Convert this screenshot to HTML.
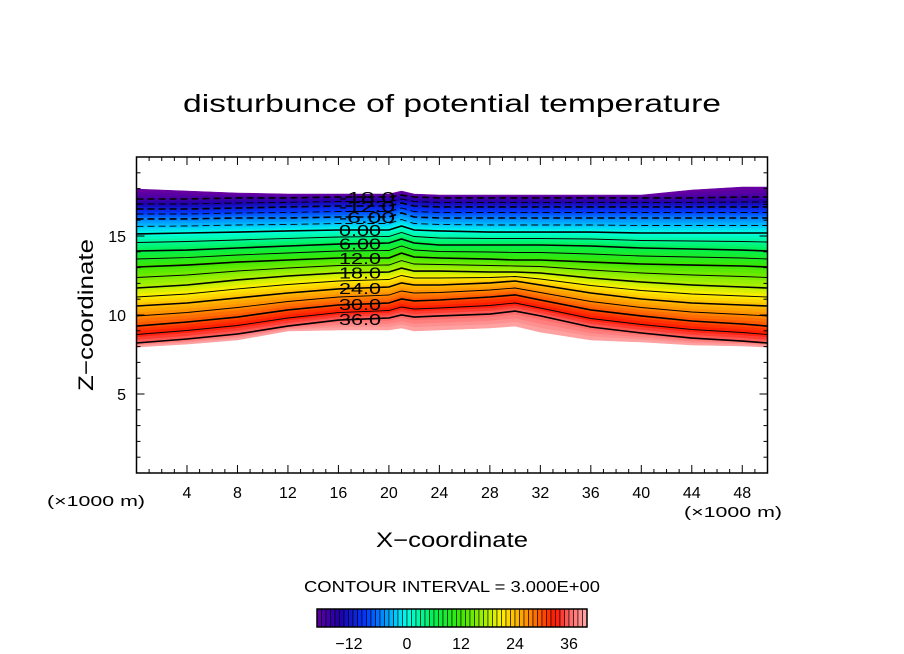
<!DOCTYPE html>
<html><head><meta charset="utf-8"><style>
body{margin:0;background:#fff;}
svg{display:block;font-family:"Liberation Sans",sans-serif;}
</style></head><body>
<svg id="chart" width="904" height="654" viewBox="0 0 904 654">
<text x="183" y="112" font-size="25" textLength="538" lengthAdjust="spacingAndGlyphs">disturbunce of potential temperature</text>
<g id="plot"></g>
<g id="axes"></g>
<text x="376" y="547" font-size="21" textLength="152" lengthAdjust="spacingAndGlyphs">X−coordinate</text>
<text transform="translate(93,391) rotate(-90)" font-size="21" textLength="152" lengthAdjust="spacingAndGlyphs">Z−coordinate</text>
<text x="47" y="506" font-size="15" textLength="98" lengthAdjust="spacingAndGlyphs">(×1000 m)</text>
<text x="684" y="517" font-size="15" textLength="98" lengthAdjust="spacingAndGlyphs">(×1000 m)</text>
<text x="304" y="592" font-size="16" textLength="296" lengthAdjust="spacingAndGlyphs">CONTOUR INTERVAL = 3.000E+00</text>
<g id="cbar"></g>
</svg>
<script>
// data
const xCols = [0,4,8,12,16,20,21,22,24,28,30,32,36,40,44,48,50];
const mainLevels = [-21,-18,-12,-6,0,6,12,18,24,30,36,40];
const levelHeights = [
 [17.97,17.85,17.72,17.66,17.66,17.66,17.85,17.66,17.59,17.59,17.59,17.59,17.59,17.59,17.91,18.10,18.10],
 [17.34,17.34,17.41,17.41,17.47,17.47,17.59,17.47,17.41,17.41,17.41,17.41,17.41,17.41,17.41,17.47,17.47],
 [16.71,16.71,16.77,16.84,16.90,16.90,17.09,16.90,16.84,16.84,16.84,16.84,16.84,16.84,16.84,16.84,16.84],
 [16.08,16.08,16.14,16.14,16.20,16.20,16.46,16.20,16.14,16.14,16.14,16.14,16.14,16.14,16.14,16.14,16.14],
 [15.13,15.19,15.25,15.32,15.38,15.38,15.63,15.38,15.32,15.25,15.25,15.25,15.25,15.19,15.19,15.19,15.19],
 [14.05,14.11,14.24,14.37,14.49,14.56,14.81,14.56,14.43,14.43,14.43,14.43,14.37,14.24,14.18,14.11,14.05],
 [13.04,13.16,13.35,13.48,13.61,13.61,13.92,13.67,13.61,13.54,13.48,13.48,13.35,13.23,13.16,13.10,13.04],
 [11.71,11.90,12.22,12.47,12.66,12.72,12.97,12.78,12.78,12.72,12.72,12.66,12.34,12.09,11.90,11.77,11.71],
 [10.57,10.76,11.08,11.39,11.65,11.77,12.03,11.90,11.90,12.03,12.15,11.90,11.39,11.01,10.76,10.63,10.57],
 [9.30,9.56,9.87,10.32,10.63,10.76,11.01,10.89,10.95,11.14,11.27,10.95,10.32,9.94,9.62,9.43,9.30],
 [8.23,8.48,8.80,9.30,9.68,9.81,10.00,9.87,9.94,10.06,10.25,9.94,9.24,8.86,8.54,8.35,8.23],
 [7.97,8.16,8.42,8.99,9.05,9.05,9.18,8.99,9.05,9.18,9.30,8.92,8.42,8.29,8.10,8.04,7.97]
];
const contourLabels = [-18,-12,-6,0,6,12,18,24,30,36];
const xTicks = [4,8,12,16,20,24,28,32,36,40,44,48];
const yTicks = [5,10,15];
const cbarTicks = [-12,0,12,24,36];

const NS='http://www.w3.org/2000/svg';
const X0=136.5,X1=767.5,Y0=473,Y1=157;
const sx=x=>X0+(x/50)*(X1-X0);
const sy=z=>Y0-(z/20)*(Y0-Y1);
function mk(tag,attrs,parent){const e=document.createElementNS(NS,tag);for(const k in attrs)e.setAttribute(k,attrs[k]);parent.appendChild(e);return e;}
const stops=[[-21,[110,0,160]],[-15,[30,0,170]],[-9,[0,60,255]],[-3,[0,190,255]],[0,[0,255,230]],[6,[0,240,80]],[12,[60,230,0]],[18,[180,240,0]],[21,[255,240,0]],[27,[255,140,0]],[33,[255,20,0]],[36,[255,100,100]],[40,[255,170,170]]];
function color(v){for(let i=0;i<stops.length-1;i++){const a=stops[i],b=stops[i+1];if(v<=b[0]){const t=Math.max(0,(v-a[0])/(b[0]-a[0]));const c=a[1].map((q,j)=>Math.round(q+(b[1][j]-q)*t));return`rgb(${c})`;}}return'rgb(255,170,170)';}
function zAt(v,ci){for(let i=0;i<mainLevels.length-1;i++){const a=mainLevels[i],b=mainLevels[i+1];if(v>=a&&v<=b){const t=(v-a)/(b-a);return levelHeights[i][ci]+(levelHeights[i+1][ci]-levelHeights[i][ci])*t;}}return null;}
const plot=document.getElementById('plot');
for(let v=-21;v<40;v++){
  const top=xCols.map((x,ci)=>sx(x).toFixed(1)+','+sy(zAt(v,ci)).toFixed(1));
  const bot=xCols.map((x,ci)=>sx(x).toFixed(1)+','+sy(zAt(v+1,ci)).toFixed(1)).reverse();
  const p=mk('polygon',{points:top.concat(bot).join(' '),fill:color(v+0.5),stroke:color(v+0.5),'stroke-width':0.6},plot);
  
  
}
for(let v=-18;v<=36;v+=3){
  const pts=xCols.map((x,ci)=>sx(x).toFixed(1)+','+sy(zAt(v,ci)).toFixed(1)).join(' ');
  const l=mk('polyline',{points:pts,fill:'none',stroke:'#000','stroke-width':(v%6===0)?1.6:0.9,'stroke-dasharray':v<0?'7,4':'none'},plot);
  
  
}
contourLabels.forEach(v=>{
  const ci=xCols.indexOf(16);
  const z=(zAt(v,ci)+zAt(v,xCols.indexOf(20)))/2;
  const s=v<=-12?v.toFixed(1):(Math.abs(v)<10?v.toFixed(2):v.toFixed(1));
  const t=mk('text',{x:339,y:sy(z)+6,'font-size':16,textLength:(v<0?56:42),lengthAdjust:'spacingAndGlyphs'},plot);
  t.textContent=s;
  
  
});
const axes=document.getElementById('axes');
mk('rect',{x:X0,y:Y1,width:X1-X0,height:Y0-Y1,fill:'none',stroke:'#000','stroke-width':1.5},axes);
for(let x=1;x<50;x++){const big=x%4===0,L=big?8:4;
  mk('line',{x1:sx(x),x2:sx(x),y1:Y0,y2:Y0-L,stroke:'#000'},axes);
  mk('line',{x1:sx(x),x2:sx(x),y1:Y1,y2:Y1+L,stroke:'#000'},axes);}
for(let z=1;z<20;z++){const big=z%5===0,L=big?8:4;
  mk('line',{x1:X0,x2:X0+L,y1:sy(z),y2:sy(z),stroke:'#000'},axes);
  mk('line',{x1:X1,x2:X1-L,y1:sy(z),y2:sy(z),stroke:'#000'},axes);}
xTicks.forEach(x=>{const t=mk('text',{x:sx(x),y:498,'font-size':16,'text-anchor':'middle'},axes);t.textContent=x;
  
  });
yTicks.forEach(z=>{const t=mk('text',{x:126,y:sy(z)+6,'font-size':16,'text-anchor':'end'},axes);t.textContent=z;
  
  });
const cb=document.getElementById('cbar');
const cx=v=>407+(v)*4.5;
for(let v=-20;v<40;v++){
  const r=mk('rect',{x:cx(v),y:609,width:4.5,height:18,fill:color(v+0.5),stroke:'#000','stroke-width':0.6},cb);
  
  
}
mk('rect',{x:cx(-20),y:609,width:60*4.5,height:18,fill:'none',stroke:'#000','stroke-width':1.5},cb);
cbarTicks.forEach(v=>{const t=mk('text',{x:cx(v)-(v<0?4:0),y:649,'font-size':16,'text-anchor':'middle'},cb);t.textContent=v<0?'−'+(-v):v;
  
  });
</script>
</body></html>
